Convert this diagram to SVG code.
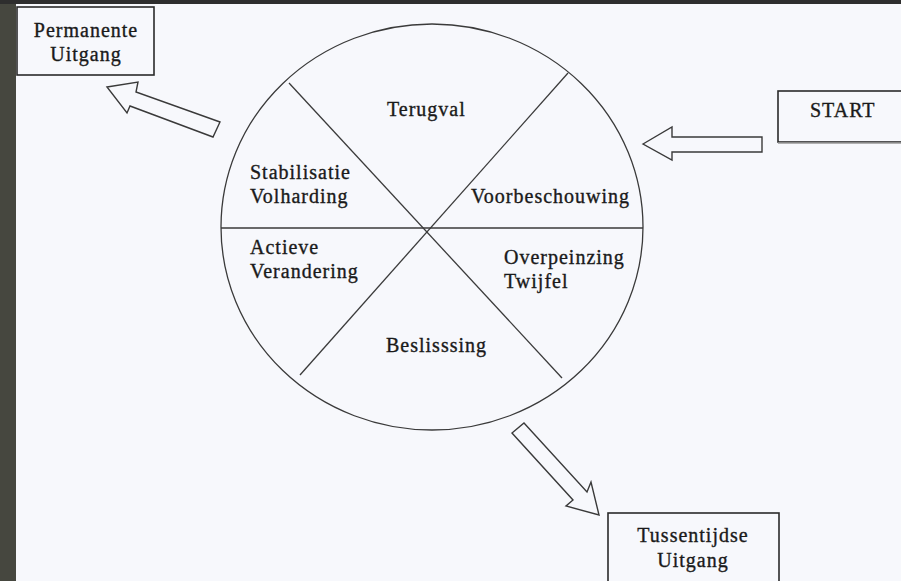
<svg xmlns="http://www.w3.org/2000/svg" width="901" height="581" viewBox="0 0 901 581">
<style>
.lbl{font-family:"Liberation Serif","Times New Roman",serif;font-size:20px;fill:#1a1a1a;stroke:#1a1a1a;stroke-width:0.35;letter-spacing:1px}
.c{text-anchor:middle}
.box{fill:none;stroke:#2a2a2a;stroke-width:1.6}
.ln{fill:none;stroke:#3a3a3a;stroke-width:1.3}
.arr{fill:#f7f8fc;stroke:#3a3a3a;stroke-width:1.4;stroke-linejoin:miter}
</style>
<rect x="0" y="0" width="901" height="581" fill="#46473f"/>
<rect x="0" y="0" width="901" height="4" fill="#2e2e2e"/>
<rect x="16" y="4" width="885" height="577" fill="#f7f8fc"/>

<g id="wheel">
<ellipse class="ln" cx="432" cy="227" rx="211" ry="203"/>
<line class="ln" x1="221" y1="228" x2="643" y2="228"/>
<line class="ln" x1="289" y1="83" x2="562" y2="378"/>
<line class="ln" x1="568" y1="73" x2="300" y2="375"/>
</g>

<g id="terugval"><text class="lbl" x="387" y="116">Terugval</text></g>
<g id="stabilisatie"><text class="lbl" x="250" y="179">Stabilisatie</text><text class="lbl" x="250" y="203">Volharding</text></g>
<g id="voorbeschouwing"><text class="lbl" x="471" y="203">Voorbeschouwing</text></g>
<g id="actieve"><text class="lbl" x="250" y="254">Actieve</text><text class="lbl" x="250" y="278">Verandering</text></g>
<g id="overpeinzing"><text class="lbl" x="504" y="264">Overpeinzing</text><text class="lbl" x="504" y="288">Twijfel</text></g>
<g id="beslissing"><text class="lbl" x="386" y="352">Beslisssing</text></g>

<g id="permanente">
<rect class="box" x="17" y="7" width="137" height="68"/>
<text class="lbl c" x="86" y="37">Permanente</text>
<text class="lbl c" x="86" y="61">Uitgang</text>
</g>
<g id="start">
<rect class="box" x="778" y="91" width="130" height="51"/>
<line x1="778" y1="143" x2="901" y2="143" stroke="#999" stroke-width="1.5"/>
<text class="lbl" x="810" y="117">START</text>
</g>
<g id="tussentijdse">
<rect class="box" x="608" y="513" width="171" height="72"/>
<text class="lbl c" x="693" y="542">Tussentijdse</text>
<text class="lbl c" x="693" y="567">Uitgang</text>
</g>

<g id="connectors">
<polygon class="arr" points="643,144 672,127 672,137 762,137 762,152 672,152 672,160"/>
<polygon class="arr" points="107,87 138,82 136,92 220,122 213,137 130,106 127,113"/>
<polygon class="arr" points="524,423 587,492 591,482 599,515 566,506 573,500 512,433"/>
</g>
</svg>
